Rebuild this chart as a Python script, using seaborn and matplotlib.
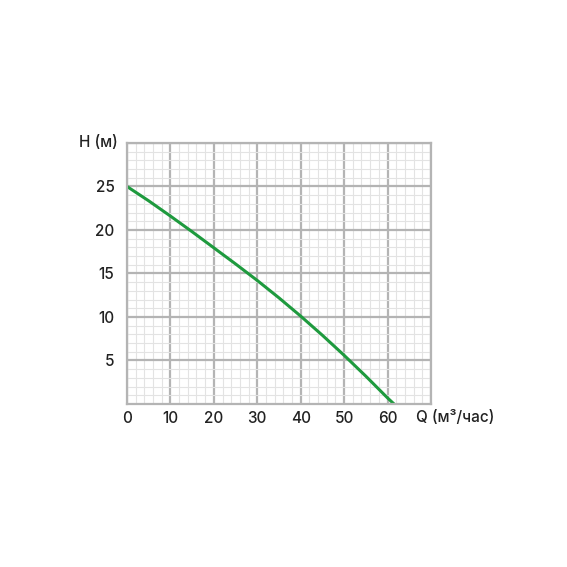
import numpy as np
import matplotlib
matplotlib.use("Agg")
import matplotlib.pyplot as plt
from matplotlib.ticker import MultipleLocator
import seaborn as sns

sns.set_theme(style="white")
plt.rcParams["font.family"] = ["Inter", "DejaVu Sans"]

# ── Data: pump curve ─────────────────────────────────────────────────────────
flow_q = [0, 5, 10, 15, 20, 25, 30, 35, 40, 45, 50, 55, 60, 61.5]
head_h = [25.0, 23.35, 21.6, 19.8, 17.95, 16.1, 14.2, 12.2, 10.1, 7.9, 5.6, 3.2, 0.7, 0.0]
x_ticks = [0, 10, 20, 30, 40, 50, 60]
y_ticks = [5, 10, 15, 20, 25]

fig = plt.figure(figsize=(5.67, 5.67), dpi=100)
ax = fig.add_axes([0.224, 0.2875, 0.536, 0.4603])

sns.lineplot(x=flow_q, y=head_h, ax=ax, color="#1e9a3e", linewidth=2.2)

ax.set_xlim(0, 70)
ax.set_ylim(0, 30)
ax.xaxis.set_minor_locator(MultipleLocator(2))
ax.yaxis.set_minor_locator(MultipleLocator(1))
ax.set_xticks(x_ticks + [70])
ax.set_xticklabels([str(v) for v in x_ticks] + [""])
ax.set_yticks(y_ticks + [30])
ax.set_yticklabels([str(v) for v in y_ticks] + [""])
ax.grid(which="minor", color="#e3e3e3", linewidth=0.8)
ax.grid(which="major", color="#b4b4b4", linewidth=1.6)
ax.set_axisbelow(True)
for s in ax.spines.values():
    s.set_color("#b4b4b4")
    s.set_linewidth(1.6)

ax.tick_params(axis="both", which="both", length=0, labelsize=11,
               labelcolor="#222222")
for lbl in ax.get_xticklabels() + ax.get_yticklabels():
    lbl.set_fontweight("medium")
ax.tick_params(axis="x", pad=5)
ax.tick_params(axis="y", pad=9)

ax.text(-0.03, 1.0, "H (м)", transform=ax.transAxes, ha="right", va="center",
        fontsize=11, fontweight="medium", color="#222222")
ax.text(0.95, -0.052, "Q (м³/час)", transform=ax.transAxes, ha="left", va="center",
        fontsize=11, fontweight="medium", color="#222222")

fig.savefig("out.png", dpi=100)
